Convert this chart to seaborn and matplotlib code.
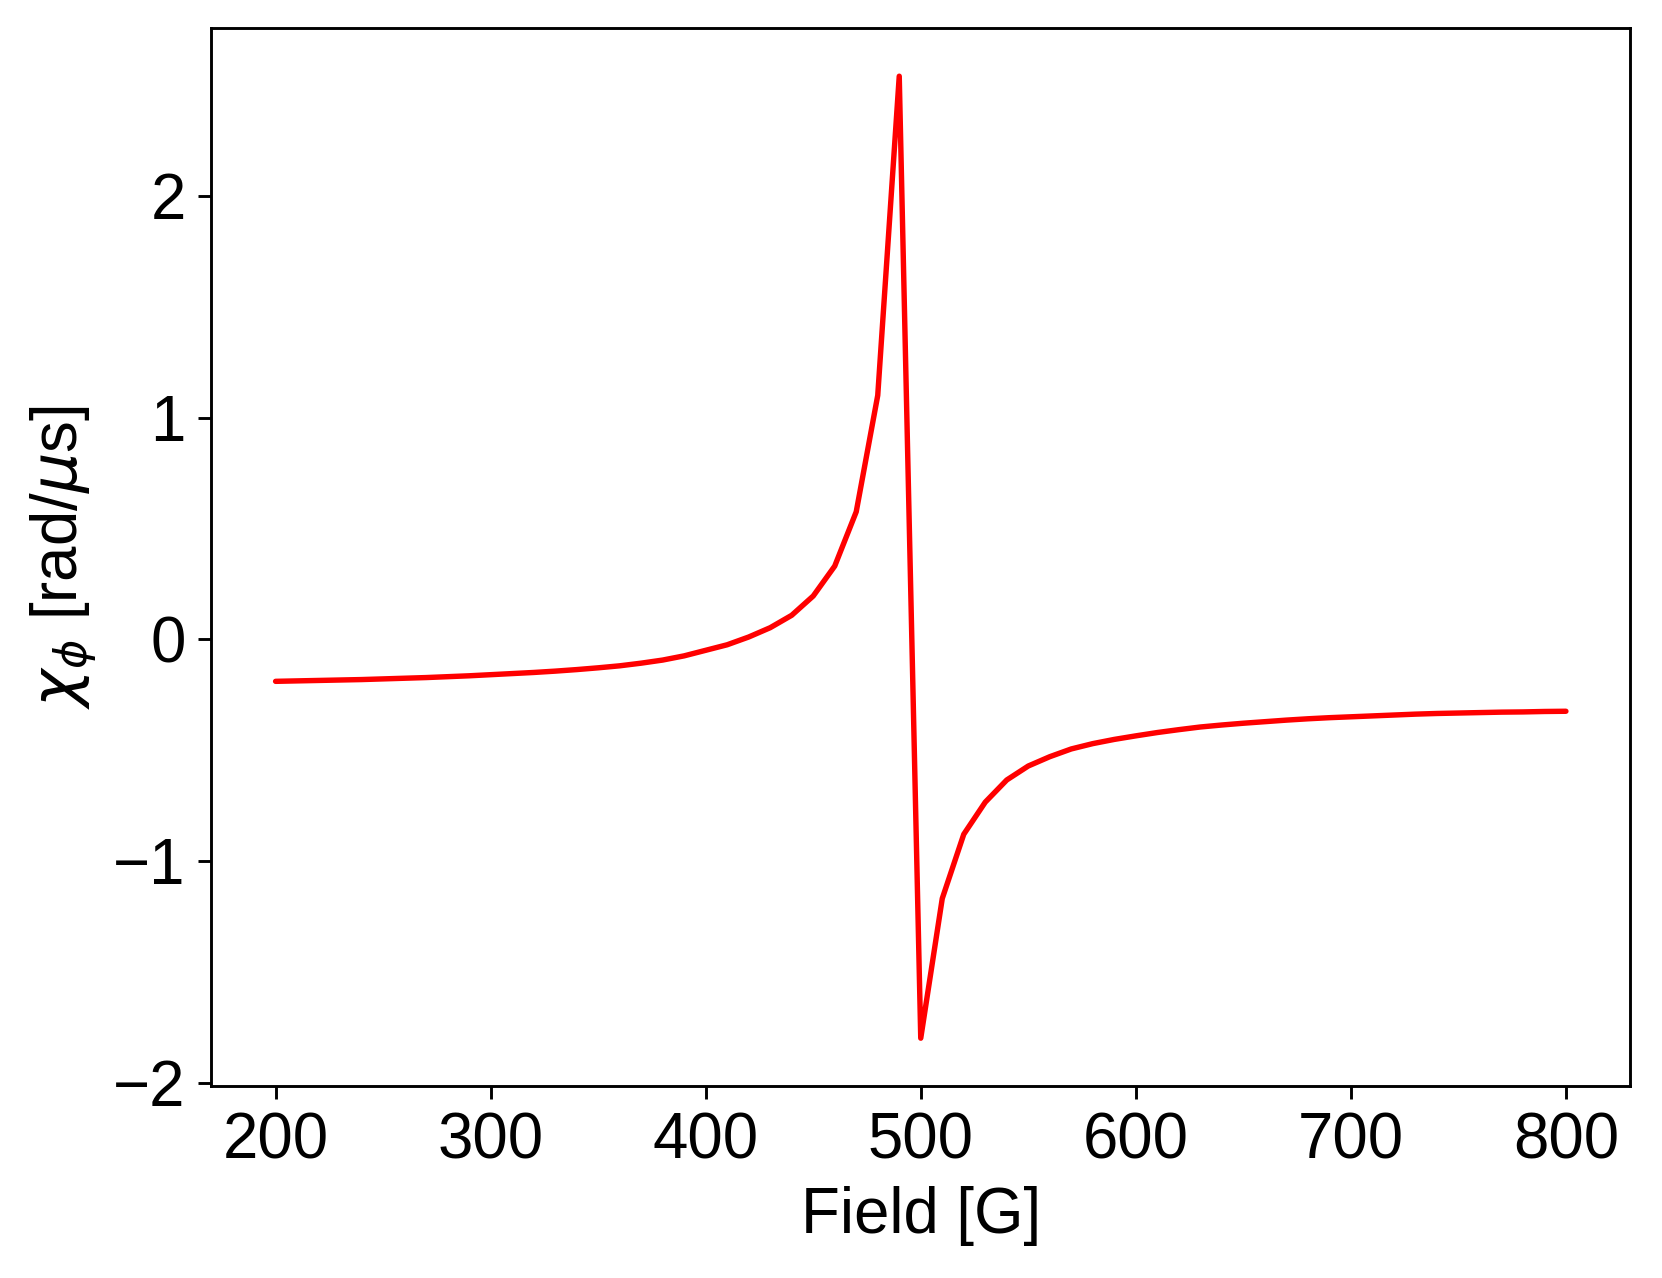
import numpy as np
import pandas as pd
import matplotlib
matplotlib.use("Agg")
import matplotlib.pyplot as plt
import seaborn as sns

# Field values (G), sampled every 10 G
field = list(range(200, 810, 10))

# chi_phi values (rad/us)
chi_left = [-0.190, -0.188, -0.186, -0.184, -0.182, -0.179, -0.176, -0.173, -0.169, -0.165,
            -0.160, -0.155, -0.150, -0.144, -0.137, -0.129, -0.120, -0.108, -0.094, -0.075,
            -0.050, -0.025, 0.010, 0.052, 0.108, 0.195, 0.33, 0.575, 1.10, 2.54]
chi_right = [-1.80, -1.17, -0.88, -0.735, -0.635, -0.572, -0.530, -0.495, -0.471, -0.452,
             -0.436, -0.421, -0.408, -0.396, -0.387, -0.379, -0.372, -0.365, -0.359, -0.354,
             -0.350, -0.346, -0.342, -0.338, -0.335, -0.333, -0.331, -0.329, -0.328, -0.326,
             -0.325]
chi = chi_left + chi_right

df = pd.DataFrame({'field': field, 'chi': chi})

sns.set_theme(style="ticks")
plt.rcParams['font.family'] = ['Liberation Sans', 'DejaVu Sans']
plt.rcParams['mathtext.fontset'] = 'dejavusans'
plt.rcParams['text.color'] = 'black'
plt.rcParams['axes.labelcolor'] = 'black'
plt.rcParams['xtick.color'] = 'black'
plt.rcParams['ytick.color'] = 'black'
plt.rcParams['axes.edgecolor'] = 'black'
plt.rcParams['axes.linewidth'] = 0.8
plt.rcParams['xtick.major.width'] = 0.8
plt.rcParams['ytick.major.width'] = 0.8
plt.rcParams['xtick.major.size'] = 3.5
plt.rcParams['ytick.major.size'] = 3.5

fig = plt.figure(figsize=(1662 / 260, 1278 / 260), dpi=260)
ax = fig.add_axes([0.127, 0.150, 0.854, 0.828])

sns.lineplot(data=df, x='field', y='chi', color='red', linewidth=1.5, ax=ax)

fs = 17.6
ax.set_xticks([200, 300, 400, 500, 600, 700, 800])
ax.set_yticks([-2, -1, 0, 1, 2])
ax.tick_params(labelsize=fs)
ax.set_xlabel('Field [G]', fontsize=fs)
ax.set_ylabel(r'$\chi_\phi$ [rad/$\mu$s]', fontsize=fs)

fig.savefig('out.png', dpi=260)
